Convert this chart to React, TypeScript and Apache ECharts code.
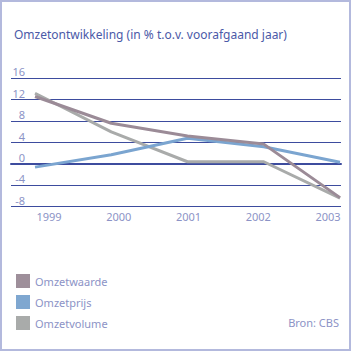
import React, { useEffect, useRef } from "react";
import * as echarts from "echarts";

const years = [1999, 2000, 2001, 2002, 2003];
const yearLabels = ["1999", "2000", "2001", "2002", "2003"];
const omzetwaarde = [12.6, 7.6, 5.2, 3.7, -6.3];
const omzetprijs = [-0.6, 1.7, 4.8, 3.2, 0.3];
const omzetvolume = [13.2, 6.0, 0.4, 0.4, -6.4];

const FONT = "'Noto Sans', sans-serif";
const LABEL_COLOR = "#8c93c6";
const GRID_COLOR = "#3d4c9e";

export default function App() {
  const ref = useRef<HTMLDivElement>(null);
  useEffect(() => {
    if (!ref.current) return;
    const chart = echarts.init(ref.current, undefined, { renderer: "svg" });
    const toPairs = (vals: number[]) => years.map((y, i) => [y, vals[i]]);
    chart.setOption({
      animation: false,
      title: {
        text: "Omzetontwikkeling (in % t.o.v. voorafgaand jaar)",
        left: 9,
        top: 23,
        textStyle: { fontFamily: FONT, fontSize: 12, fontWeight: "normal", color: "#4b5aa8" },
      },
      graphic: [
        {
          type: "text",
          right: 12,
          top: 317,
          style: { text: "Bron: CBS", font: `11px ${FONT}`, fill: LABEL_COLOR },
        },
      ],
      legend: {
        orient: "vertical",
        left: 11,
        top: 269,
        itemWidth: 14,
        itemHeight: 14,
        itemGap: 7,
        icon: "rect",
        textStyle: { fontFamily: FONT, fontSize: 11, color: LABEL_COLOR },
        data: ["Omzetwaarde", "Omzetprijs", "Omzetvolume"],
      },
      grid: [
        { left: 11, right: 10, top: 78.3, height: 128.4 },
        { left: 49, right: 23, top: 78.3, height: 128.4 },
      ],
      xAxis: [
        {
          type: "value",
          gridIndex: 0,
          min: 1998.685,
          max: 2003.013,
          axisLine: { show: true, onZero: true, lineStyle: { color: GRID_COLOR, width: 2 } },
          axisTick: { show: false },
          axisLabel: { show: false },
          splitLine: { show: false },
        },
        {
          type: "category",
          gridIndex: 1,
          data: yearLabels,
          boundaryGap: false,
          axisLine: { show: false },
          axisTick: { show: false },
          axisLabel: { margin: 4, fontFamily: FONT, fontSize: 11, color: LABEL_COLOR },
        },
      ],
      yAxis: [
        {
          type: "value",
          gridIndex: 0,
          min: -8,
          max: 16,
          interval: 4,
          axisLine: { show: false },
          axisTick: { show: false },
          axisLabel: {
            margin: -14,
            align: "right",
            verticalAlign: "bottom",
            padding: [0, 0, 1, 0],
            fontFamily: FONT,
            fontSize: 11,
            color: LABEL_COLOR,
          },
          splitLine: { show: true, lineStyle: { color: GRID_COLOR, width: 1 } },
        },
        { type: "value", gridIndex: 1, show: false },
      ],
      series: [
        {
          name: "Omzetvolume",
          type: "line",
          data: toPairs(omzetvolume),
          showSymbol: false,
          lineStyle: { color: "#a9abaa", width: 3 },
          itemStyle: { color: "#a9abaa" },
          z: 2,
        },
        {
          name: "Omzetprijs",
          type: "line",
          data: toPairs(omzetprijs),
          showSymbol: false,
          lineStyle: { color: "#7ba5d0", width: 3 },
          itemStyle: { color: "#7fa7d0" },
          z: 3,
        },
        {
          name: "Omzetwaarde",
          type: "line",
          data: toPairs(omzetwaarde),
          showSymbol: false,
          lineStyle: { color: "#9b8b97", width: 3 },
          itemStyle: { color: "#9e8f9a" },
          z: 4,
        },
      ],
    });
    return () => chart.dispose();
  }, []);
  return (
    <div
      style={{
        position: "fixed",
        top: 0,
        left: 0,
        width: 351,
        height: 351,
        boxSizing: "border-box",
        border: "2px solid #b3b9dd",
        background: "#fff",
      }}
    >
      <div ref={ref} style={{ position: "absolute", top: -2, left: -2, width: 351, height: 351 }} />
    </div>
  );
}
